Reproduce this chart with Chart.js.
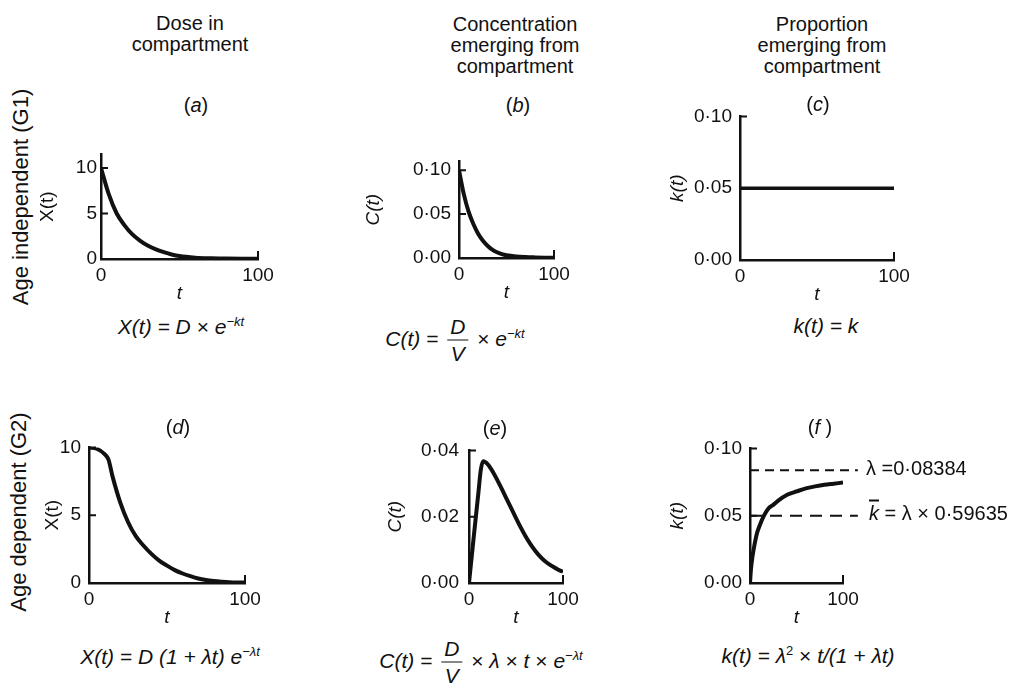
<!DOCTYPE html>
<html>
<head>
<meta charset="utf-8">
<script src="https://cdn.jsdelivr.net/npm/chart.js@4.4.1/dist/chart.umd.min.js"></script>
<style>
  body { margin: 0; background: #fff; }
  #page { position: relative; width: 1018px; height: 689px; overflow: hidden;
          font-family: 'Liberation Sans', Arial, sans-serif; color: #111; }
  canvas { position: absolute; }
  .txt { position: absolute; transform: translate(-50%, -50%); white-space: nowrap; }
  .hdr { font-size: 20px; line-height: 21px; text-align: center; }
  .rot { transform: translate(-50%, -50%) rotate(-90deg); font-size: 22px; }
  .lab { font-size: 20px; }
  .f { font-size: 21px; font-style: italic; }
  .up { font-style: normal; }
  .frac { display: inline-flex; flex-direction: column; vertical-align: middle; text-align: center;
          margin: 0 3px; line-height: 26px; }
  .frac span:first-child { border-bottom: 1.5px solid #111; padding: 0 3px; }
  sup { font-size: 0.62em; }
  .side { position: absolute; transform: translate(0, -50%); white-space: nowrap; font-size: 20px; }
  .bar { text-decoration: overline; font-style: italic; }
</style>
</head>
<body>
<div id="page">
  <canvas id="pa"></canvas>
  <canvas id="pb"></canvas>
  <canvas id="pc"></canvas>
  <canvas id="pd"></canvas>
  <canvas id="pe"></canvas>
  <canvas id="pf"></canvas>

  <div class="txt hdr" style="left:190px;top:34px">Dose in<br>compartment</div>
  <div class="txt hdr" style="left:515px;top:45px">Concentration<br>emerging from<br>compartment</div>
  <div class="txt hdr" style="left:822px;top:45px">Proportion<br>emerging from<br>compartment</div>

  <div class="txt rot" style="left:21px;top:197px">Age independent (G1)</div>
  <div class="txt rot" style="left:19px;top:512px">Age dependent (G2)</div>

  <div class="txt lab" style="left:196px;top:105px">(<i>a</i>)</div>
  <div class="txt lab" style="left:518px;top:105px">(<i>b</i>)</div>
  <div class="txt lab" style="left:818px;top:104px">(<i>c</i>)</div>
  <div class="txt lab" style="left:178px;top:427px">(<i>d</i>)</div>
  <div class="txt lab" style="left:495px;top:428px">(<i>e</i>)</div>
  <div class="txt lab" style="left:820px;top:427px">(<i>f</i> )</div>

  <div class="txt f" style="left:181px;top:326px">X(t) = D <span class="up">×</span> e<sup>−kt</sup></div>
  <div class="txt f" style="left:455px;top:340px">C(t) = <span class="frac"><span>D</span><span>V</span></span> <span class="up">×</span> e<sup>−kt</sup></div>
  <div class="txt f" style="left:826px;top:326px">k(t) = k</div>
  <div class="txt f" style="left:170px;top:656px">X(t) = D (1 + λt) e<sup>−λt</sup></div>
  <div class="txt f" style="left:481px;top:662px">C(t) = <span class="frac"><span>D</span><span>V</span></span> <span class="up">×</span> λ <span class="up">×</span> t <span class="up">×</span> e<sup>−λt</sup></div>
  <div class="txt f" style="left:808px;top:655px">k(t) = λ<sup class="up">2</sup> <span class="up">×</span> t/(1 + λt)</div>

  <div class="side" style="left:866px;top:468px">λ =0·08384</div>
  <div class="side" style="left:869px;top:513px"><span class="bar">k</span> = λ × 0·59635</div>
</div>

<script>
// valeurs
const xTicks = [0, 100];

const tG1 = [0, 5, 10, 15, 20, 25, 30, 35, 40, 45, 50, 60, 70, 80, 90, 100];
const doseG1 = [10, 7.1, 5.0, 3.7, 2.7, 2.0, 1.45, 1.05, 0.75, 0.5, 0.32, 0.15, 0.08, 0.05, 0.03, 0.02];
const concG1 = [0.1, 0.073, 0.053, 0.039, 0.028, 0.02, 0.014, 0.0095, 0.0065, 0.0045, 0.0032, 0.0018, 0.0011, 0.0007, 0.0004, 0.0003];

const tConst = [0, 100];
const rateG1 = [0.05, 0.05];

const tDoseG2 = [0, 5, 10, 12.5, 15, 20, 25, 30, 35, 40, 45, 50, 55, 60, 65, 70, 75, 80, 85, 90, 95, 100];
const doseG2 = [10, 9.9, 9.5, 9.1, 7.9, 5.95, 4.5, 3.45, 2.75, 2.15, 1.65, 1.28, 0.95, 0.7, 0.5, 0.33, 0.22, 0.15, 0.1, 0.06, 0.04, 0.03];

const tConcG2 = [0, 5, 10, 12.5, 15, 20, 25, 30, 35, 40, 45, 50, 55, 60, 65, 70, 75, 80, 85, 90, 95, 100];
const concG2 = [0, 0.0138, 0.0272, 0.034, 0.0367, 0.0358, 0.0337, 0.0311, 0.0283, 0.0254, 0.0225, 0.0196, 0.0168, 0.0142, 0.0119, 0.0099, 0.0082, 0.0068, 0.0057, 0.0048, 0.0040, 0.0034];

const tRateG2 = [0, 1, 2.5, 5, 7.5, 10, 15, 20, 25, 30, 40, 50, 60, 70, 80, 90, 100];
const rateG2 = [0, 0.010, 0.019, 0.029, 0.037, 0.042, 0.050, 0.0555, 0.058, 0.061, 0.0655, 0.068, 0.0703, 0.0718, 0.073, 0.0738, 0.0746];

const lambda = 0.08384;
const kBar = 0.05;
const refLineT = [0, 116];

const doseTicks = [0, 5, 10];
const concTicksG1 = [0, 0.05, 0.10];
const rateTicks = [0, 0.05, 0.10];
const concTicksG2 = [0, 0.02, 0.04];

const FONT = "'Liberation Sans', Arial, sans-serif";
const INK = '#111';

const pts = (ts, ys) => ts.map((t, i) => ({ x: t, y: ys[i] }));
const fmt2 = v => v.toFixed(2).replace('.', '·');
const fmt0 = v => String(v);

// petits traits vers l'intérieur, comme sur l'original
const inwardTicks = {
    id: 'inwardTicks',
    afterDraw(chart) {
        const { ctx, chartArea: a, scales: { x, y } } = chart;
        ctx.save();
        ctx.strokeStyle = INK;
        ctx.lineWidth = 2;
        ctx.beginPath();
        y.ticks.forEach(t => {
            const py = y.getPixelForValue(t.value);
            ctx.moveTo(a.left, py);
            ctx.lineTo(a.left + 7, py);
        });
        const px = x.getPixelForValue(100);
        ctx.moveTo(px, a.bottom);
        ctx.lineTo(px, a.bottom - 8);
        ctx.stroke();
        ctx.restore();
    }
};

function panel(id, box, yMax, yTicks, yFmt, yTitle, titleItalic, tickPad, datasets) {
    const cv = document.getElementById(id);
    const topPad = 14, rightPad = 36, xH = 48;
    const yW = box.left - box.cx;
    const w = yW + (box.right - box.left) + rightPad;
    const h = topPad + (box.y0 - box.yTop) + xH;
    cv.width = w; cv.height = h;
    cv.style.width = w + 'px'; cv.style.height = h + 'px';
    cv.style.left = box.cx + 'px';
    cv.style.top = (box.yTop - topPad) + 'px';

    new Chart(cv, {
        type: 'line',
        data: { datasets },
        options: {
            responsive: false,
            animation: false,
            devicePixelRatio: 1,
            layout: { padding: { top: topPad, right: rightPad, left: 0, bottom: 0 } },
            plugins: { legend: { display: false }, tooltip: { enabled: false } },
            elements: {
                point: { radius: 0 },
                line: { borderColor: INK, borderWidth: 4, cubicInterpolationMode: 'monotone', fill: false }
            },
            scales: {
                x: {
                    type: 'linear', min: 0, max: 100,
                    afterBuildTicks: s => { s.ticks = xTicks.map(v => ({ value: v })); },
                    afterFit: s => { s.height = xH; },
                    grid: { display: false, drawTicks: false },
                    border: { display: true, color: INK, width: 2.5 },
                    ticks: { padding: 5, color: INK, font: { family: FONT, size: 19 }, maxRotation: 0, autoSkip: false },
                    title: { display: true, text: 't', color: INK, font: { family: FONT, size: 19, style: 'italic' },
                             padding: { top: 0, bottom: 2 } }
                },
                y: {
                    type: 'linear', min: 0, max: yMax,
                    afterBuildTicks: s => { s.ticks = yTicks.map(v => ({ value: v })); },
                    afterFit: s => { s.width = yW; },
                    grid: { display: false, drawTicks: false },
                    border: { display: true, color: INK, width: 2.5 },
                    ticks: { padding: tickPad, color: INK, font: { family: FONT, size: 19 }, callback: v => yFmt(v) },
                    title: { display: true, text: yTitle, color: INK,
                             font: { family: FONT, size: 19, style: titleItalic ? 'italic' : 'normal' },
                             padding: { top: 0, bottom: 0 } }
                }
            }
        },
        plugins: [inwardTicks]
    });
}

panel('pa', { cx: 36, left: 101, right: 258, yTop: 153, y0: 259 }, 11.5, doseTicks, fmt0, 'X(t)', false, 4,
    [{ data: pts(tG1, doseG1) }]);
panel('pb', { cx: 362, left: 459, right: 554, yTop: 156, y0: 258 }, 0.11, concTicksG1, fmt2, 'C(t)', true, 8,
    [{ data: pts(tG1, concG1) }]);
panel('pc', { cx: 666, left: 740, right: 894, yTop: 111, y0: 260 }, 0.10, rateTicks, fmt2, 'k(t)', true, 8,
    [{ data: pts(tConst, rateG1), borderWidth: 3.5 }]);
panel('pd', { cx: 41, left: 89, right: 245, yTop: 442, y0: 583 }, 10, doseTicks, fmt0, 'X(t)', false, 8,
    [{ data: pts(tDoseG2, doseG2) }]);
panel('pe', { cx: 384, left: 469, right: 563, yTop: 443, y0: 583 }, 0.04, concTicksG2, fmt2, 'C(t)', true, 10,
    [{ data: pts(tConcG2, concG2) }]);
panel('pf', { cx: 666, left: 750, right: 843, yTop: 443, y0: 583 }, 0.10, rateTicks, fmt2, 'k(t)', true, 8,
    [
        { data: pts(tRateG2, rateG2) },
        { data: pts(refLineT, [lambda, lambda]), borderWidth: 2, borderDash: [9, 6], clip: false },
        { data: pts(refLineT, [kBar, kBar]), borderWidth: 2, borderDash: [12, 8], clip: false }
    ]);
</script>
</body>
</html>
